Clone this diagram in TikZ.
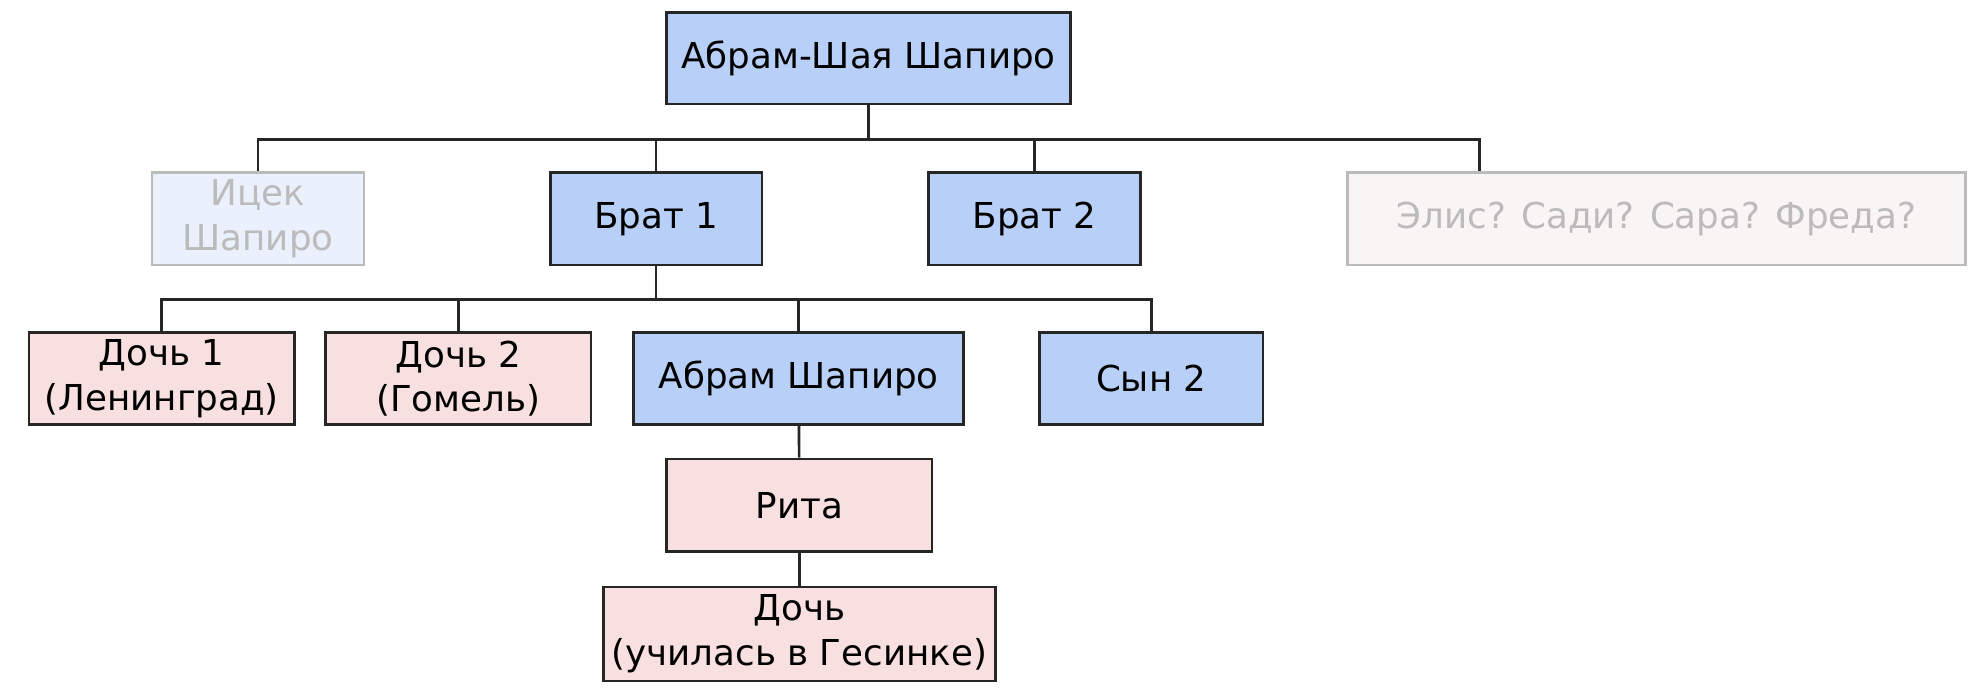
\documentclass[tikz,border=0pt]{standalone}
\usepackage{fontspec}
\setmainfont{DejaVu Sans}
\usepackage{xcolor}
\usetikzlibrary{positioning}
\definecolor{blueF}{HTML}{B8D0F8}
\definecolor{pinkF}{HTML}{F8E0E0}
\definecolor{fadeB}{HTML}{EAF0FC}
\definecolor{fadeP}{HTML}{FAF5F5}
\definecolor{fadeT}{HTML}{BBBBBB}
\begin{document}
\begin{tikzpicture}[
    x=0.01cm, y=-0.01cm,
    font=\fontsize{8}{10}\selectfont,
    box/.style={rectangle, draw=black!85, semithick, inner sep=0pt, text centered, align=center, minimum height=0.73cm},
    man/.style={box, fill=blueF},
    woman/.style={box, fill=pinkF},
    faded/.style={box, draw=fadeT, text=fadeT},
    line/.style={draw=black!85, semithick}
]
\useasboundingbox (0,0) rectangle (1568,547);

% Top generation
\node [man, minimum width=3.18cm, minimum height=0.72cm] (root) at (685,46) {Абрам-Шая Шапиро};

% Second generation
\node [faded, fill=fadeB, minimum width=1.67cm] (itsek) at (203.5,172.5) {Ицек\\Шапиро};
\node [man, minimum width=1.67cm] (brat1) at (517.5,172.5) {Брат 1};
\node [man, minimum width=1.67cm] (brat2) at (816,172.5) {Брат 2};
\node [faded, fill=fadeP, minimum width=4.87cm] (elis) at (1306.5,172.5) {Элис? Сади? Сара? Фреда?};

% Third generation
\node [woman, minimum width=2.09cm] (doch1) at (127.5,298.5) {Дочь 1\\(Ленинград)};
\node [woman, minimum width=2.09cm] (doch2) at (361.5,298.5) {Дочь 2\\(Гомель)};
\node [man, minimum width=2.6cm] (abram) at (630,298.5) {Абрам Шапиро};
\node [man, minimum width=1.76cm] (syn2) at (908,298.5) {Сын 2};

% Lower generations
\node [woman, minimum width=2.09cm] (rita) at (630.5,398.5) {Рита};
\node [woman, minimum width=3.09cm, minimum height=0.74cm] (doch) at (630.5,500) {Дочь\\(училась в Гесинке)};

% Connectors
\coordinate (bus1) at (685,110);
\coordinate (bus2) at (517.5,236);
\draw [line] (root.south) -- (bus1);
\foreach \c in {itsek, brat1, brat2}
  \draw [line] (bus1) -| (\c.north);
\draw [line] (bus1) -| ([xshift=-1.395cm] elis.north);
\draw [line] (brat1.south) -- (bus2);
\foreach \c in {doch1, doch2, abram, syn2}
  \draw [line] (bus2) -| (\c.north);
\draw [line] (abram) -- (rita);
\draw [line] (rita) -- (doch);

\end{tikzpicture}
\end{document}
